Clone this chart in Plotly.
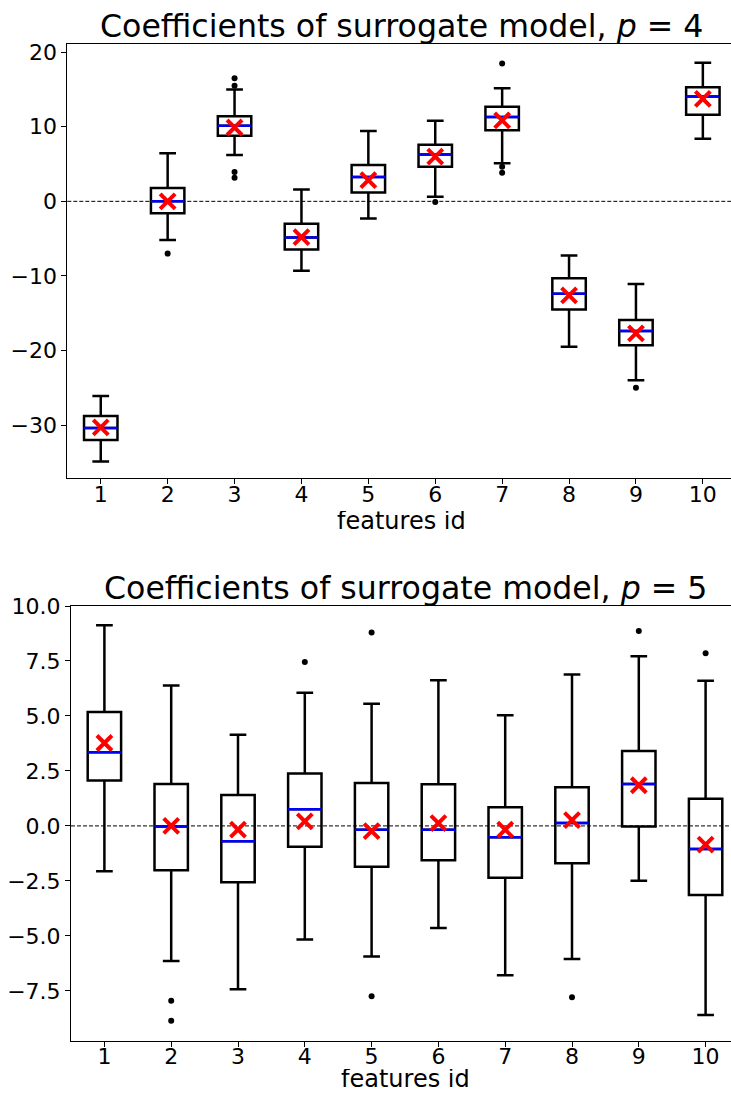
import plotly.graph_objects as go

# ---------------- data ----------------
features = [1, 2, 3, 4, 5, 6, 7, 8, 9, 10]

# p = 4
p4_lowerfence = [-34.9, -5.2, 6.2, -9.3, -2.3, 0.6, 5.1, -19.5, -24.0, 8.4]
p4_q1 = [-32.0, -1.6, 8.8, -6.45, 1.2, 4.65, 9.55, -14.5, -19.3, 11.6]
p4_median = [-30.4, 0.0, 10.15, -4.85, 3.25, 6.27, 11.3, -12.4, -17.4, 14.07]
p4_q3 = [-28.8, 1.8, 11.4, -3.0, 4.87, 7.6, 12.7, -10.3, -15.9, 15.3]
p4_upperfence = [-26.1, 6.45, 15.0, 1.6, 9.43, 10.8, 15.15, -7.26, -11.1, 18.6]
p4_mean = [-30.3, 0.0, 9.9, -4.8, 2.85, 6.0, 10.85, -12.6, -17.7, 13.75]
p4_outlier_x = [2, 3, 3, 3, 3, 6, 7, 7, 7, 9]
p4_outlier_y = [-7.0, 16.5, 15.5, 3.95, 3.15, -0.1, 18.5, 4.65, 3.85, -25.0]

# p = 5
p5_lowerfence = [-2.06, -6.14, -7.43, -5.17, -5.94, -4.64, -6.79, -6.05, -2.49, -8.6]
p5_q1 = [2.06, -2.02, -2.56, -0.95, -1.86, -1.56, -2.36, -1.70, -0.03, -3.14]
p5_median = [3.35, -0.03, -0.70, 0.76, -0.17, -0.17, -0.52, 0.13, 1.91, -1.05]
p5_q3 = [5.18, 1.91, 1.41, 2.38, 1.95, 1.89, 0.85, 1.76, 3.41, 1.24]
p5_upperfence = [9.12, 6.39, 4.15, 6.06, 5.56, 6.62, 5.03, 6.88, 7.71, 6.6]
p5_mean = [3.77, 0.0, -0.17, 0.21, -0.24, 0.13, -0.17, 0.26, 1.85, -0.85]
p5_outlier_x = [2, 2, 4, 5, 5, 8, 9, 10]
p5_outlier_y = [-7.95, -8.86, 7.45, 8.8, -7.74, -7.79, 8.86, 7.85]

titles = ["Coefficients of surrogate model, <i>p</i> = 4",
          "Coefficients of surrogate model, <i>p</i> = 5"]
xlabel = "features id"

# ---------------- figure ----------------
W, H = 731, 1093
FONT = "DejaVu Sans"
BOX_W = 0.5

# pixel layout
top_px = (44, 478)
bot_px = (606, 1041)
left1, left2 = 67.3, 71.0
step1, step2 = 66.9, 66.8

fig = go.Figure()


def add_panel(xref, yref, step, lf, q1, med, q3, uf, mean, ox, oy):
    fig.add_trace(go.Box(
        x=features, q1=q1, median=med, q3=q3, lowerfence=lf, upperfence=uf,
        width=BOX_W, whiskerwidth=0.5, boxpoints=False,
        line=dict(color="black", width=2.5), fillcolor="rgba(0,0,0,0)",
        xaxis=xref, yaxis=yref, showlegend=False, hoverinfo="skip"))
    # median (blue) - line-ew symbol length is 1.4*size
    fig.add_trace(go.Scatter(
        x=features, y=med, mode="markers",
        marker=dict(symbol="line-ew", size=BOX_W * step / 1.4, color="blue",
                    line=dict(color="blue", width=2.5)),
        xaxis=xref, yaxis=yref, showlegend=False, hoverinfo="skip"))
    # outliers
    fig.add_trace(go.Scatter(
        x=ox, y=oy, mode="markers",
        marker=dict(symbol="circle", size=6, color="black"),
        xaxis=xref, yaxis=yref, showlegend=False, hoverinfo="skip"))
    # mean (red x)
    fig.add_trace(go.Scatter(
        x=features, y=mean, mode="markers",
        marker=dict(symbol="x-thin", size=15, color="red",
                    line=dict(color="red", width=4)),
        xaxis=xref, yaxis=yref, showlegend=False, hoverinfo="skip"))


add_panel("x", "y", step1, p4_lowerfence, p4_q1, p4_median, p4_q3,
          p4_upperfence, p4_mean, p4_outlier_x, p4_outlier_y)
add_panel("x2", "y2", step2, p5_lowerfence, p5_q1, p5_median, p5_q3,
          p5_upperfence, p5_mean, p5_outlier_x, p5_outlier_y)


def ydom(px):
    return [(H - px[1]) / H, (H - px[0]) / H]


axis_common = dict(showgrid=False, zeroline=False, showline=True,
                   linecolor="black", linewidth=1, ticks="outside",
                   ticklen=5, tickwidth=1, tickcolor="black", automargin=False)

fig.update_layout(
    width=W, height=H,
    margin=dict(l=0, r=0, t=0, b=0, pad=0, autoexpand=False),
    paper_bgcolor="white", plot_bgcolor="white",
    font=dict(family=FONT, color="black"),
    xaxis=dict(domain=[left1 / W, 1], range=[0.5, 0.5 + (W - left1) / step1],
               tickvals=features, ticktext=[str(f) for f in features],
               tickfont=dict(size=22), anchor="y", mirror=True,
               ticklabelstandoff=-8, **axis_common),
    yaxis=dict(domain=ydom(top_px), range=[-37.1, 21.1], dtick=10, tick0=0,
               tickfont=dict(size=22), anchor="x", **axis_common),
    xaxis2=dict(domain=[left2 / W, 1], range=[0.5, 0.5 + (W - left2) / step2],
                tickvals=features, ticktext=[str(f) for f in features],
                tickfont=dict(size=22), anchor="y2", mirror=True,
                ticklabelstandoff=-9, **axis_common),
    yaxis2=dict(domain=ydom(bot_px), range=[-9.78, 10.0], dtick=2.5, tick0=0,
                tickformat=".1f", tickfont=dict(size=22), anchor="x2",
                **axis_common),
)

# zero reference lines
for xr, yr in (("x", "y"), ("x2", "y2")):
    fig.add_shape(type="line", xref=xr + " domain", yref=yr, x0=0, x1=1,
                  y0=0, y1=0, line=dict(color="black", width=1, dash="4px,2px"),
                  layer="below")

# titles and axis labels
cx1 = (left1 + left1 + 10 * step1) / 2 / W
cx2 = (left2 + left2 + 10 * step2) / 2 / W
fig.add_annotation(text=titles[0], x=cx1, y=(H - 26) / H, xref="paper",
                   yref="paper", showarrow=False, xanchor="center",
                   yanchor="middle", font=dict(size=31.6, family=FONT))
fig.add_annotation(text=titles[1], x=cx2, y=(H - 588) / H, xref="paper",
                   yref="paper", showarrow=False, xanchor="center",
                   yanchor="middle", font=dict(size=31.6, family=FONT))
fig.add_annotation(text=xlabel, x=cx1, y=(H - 521) / H, xref="paper",
                   yref="paper", showarrow=False, xanchor="center",
                   yanchor="middle", height=20, valign="middle",
                   font=dict(size=24, family=FONT))
fig.add_annotation(text=xlabel, x=cx2, y=(H - 1078.5) / H, xref="paper",
                   yref="paper", showarrow=False, xanchor="center",
                   yanchor="middle", height=20, valign="middle",
                   font=dict(size=24, family=FONT))

fig.write_html("out.html")
